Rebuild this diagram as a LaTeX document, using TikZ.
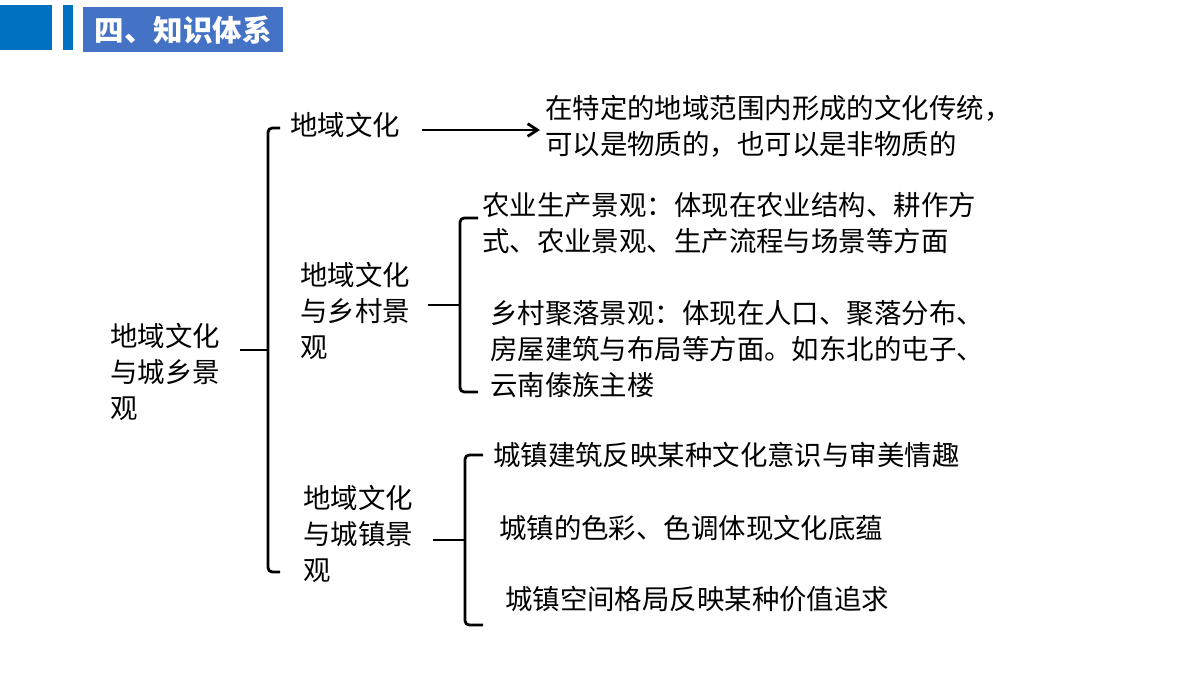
\documentclass[tikz,border=0pt]{standalone}
\usepackage{fontspec}
\setmainfont{Noto Sans CJK SC}
\usetikzlibrary{arrows.meta}
\definecolor{barblue}{RGB}{0,112,192}
\definecolor{titleblue}{RGB}{68,114,196}
\tikzset{
  txt/.style={anchor=north west,align=left,inner sep=0pt,font=\fontsize{19.5}{25.5}\selectfont},
  brace/.style={line width=2pt,rounded corners=3pt},
}
\begin{document}
\begin{tikzpicture}[x=0.025cm,y=-0.025cm]
  \useasboundingbox (0,0) rectangle (1200,675);
  % header
  \fill[barblue] (0,5) rectangle (52,50);
  \fill[barblue] (63,5) rectangle (73,50);
  \node[fill=titleblue,text=white,font=\fontsize{21}{24}\selectfont\bfseries,
        minimum width=5cm,minimum height=1.125cm,anchor=north west,inner sep=0pt] (title) at (83,7) {四、知识体系};

  \node[txt] (root) at (110,323) {地域文化\\与城乡景\\观};
  \node[txt] (culture) at (290,112) {地域文化};
  \node[txt] (def) at (545,95) {在特定的地域范围内形成的文化传统，\\可以是物质的，也可以是非物质的};
  \node[txt] (rural) at (300,262) {地域文化\\与乡村景\\观};
  \node[txt] (farm) at (482,192) {农业生产景观：体现在农业结构、耕作方\\式、农业景观、生产流程与场景等方面};
  \node[txt] (village) at (490,300) {乡村聚落景观：体现在人口、聚落分布、\\房屋建筑与布局等方面。如东北的屯子、\\云南傣族主楼};
  \node[txt] (urban) at (303,485) {地域文化\\与城镇景\\观};
  \node[txt] (build) at (493,442) {城镇建筑反映某种文化意识与审美情趣};
  \node[txt] (color) at (499,515) {城镇的色彩、色调体现文化底蕴};
  \node[txt] (space) at (505,586) {城镇空间格局反映某种价值追求};

  \coordinate (m) at (268,350);
  \coordinate (ms) at (240,350);
  \draw[brace] (ms) -- (m);
  \draw[brace] (280,128) -- (268,128) -- (268,572) -- (280,572);
  \coordinate (a1) at (422,130);
  \coordinate (a2) at (540,130);
  \draw[-{Straight Barb[length=7pt,width=9pt]},line width=2pt] (a1) -- (a2);
  \coordinate (r) at (460,305);
  \coordinate (rs) at (428,305);
  \draw[brace] (rs) -- (r);
  \draw[brace] (478,218) -- (460,218) -- (460,392) -- (478,392);
  \coordinate (u) at (465,540);
  \coordinate (us) at (433,540);
  \draw[brace] (us) -- (u);
  \draw[brace] (483,455) -- (465,455) -- (465,625) -- (483,625);
\end{tikzpicture}
\end{document}
